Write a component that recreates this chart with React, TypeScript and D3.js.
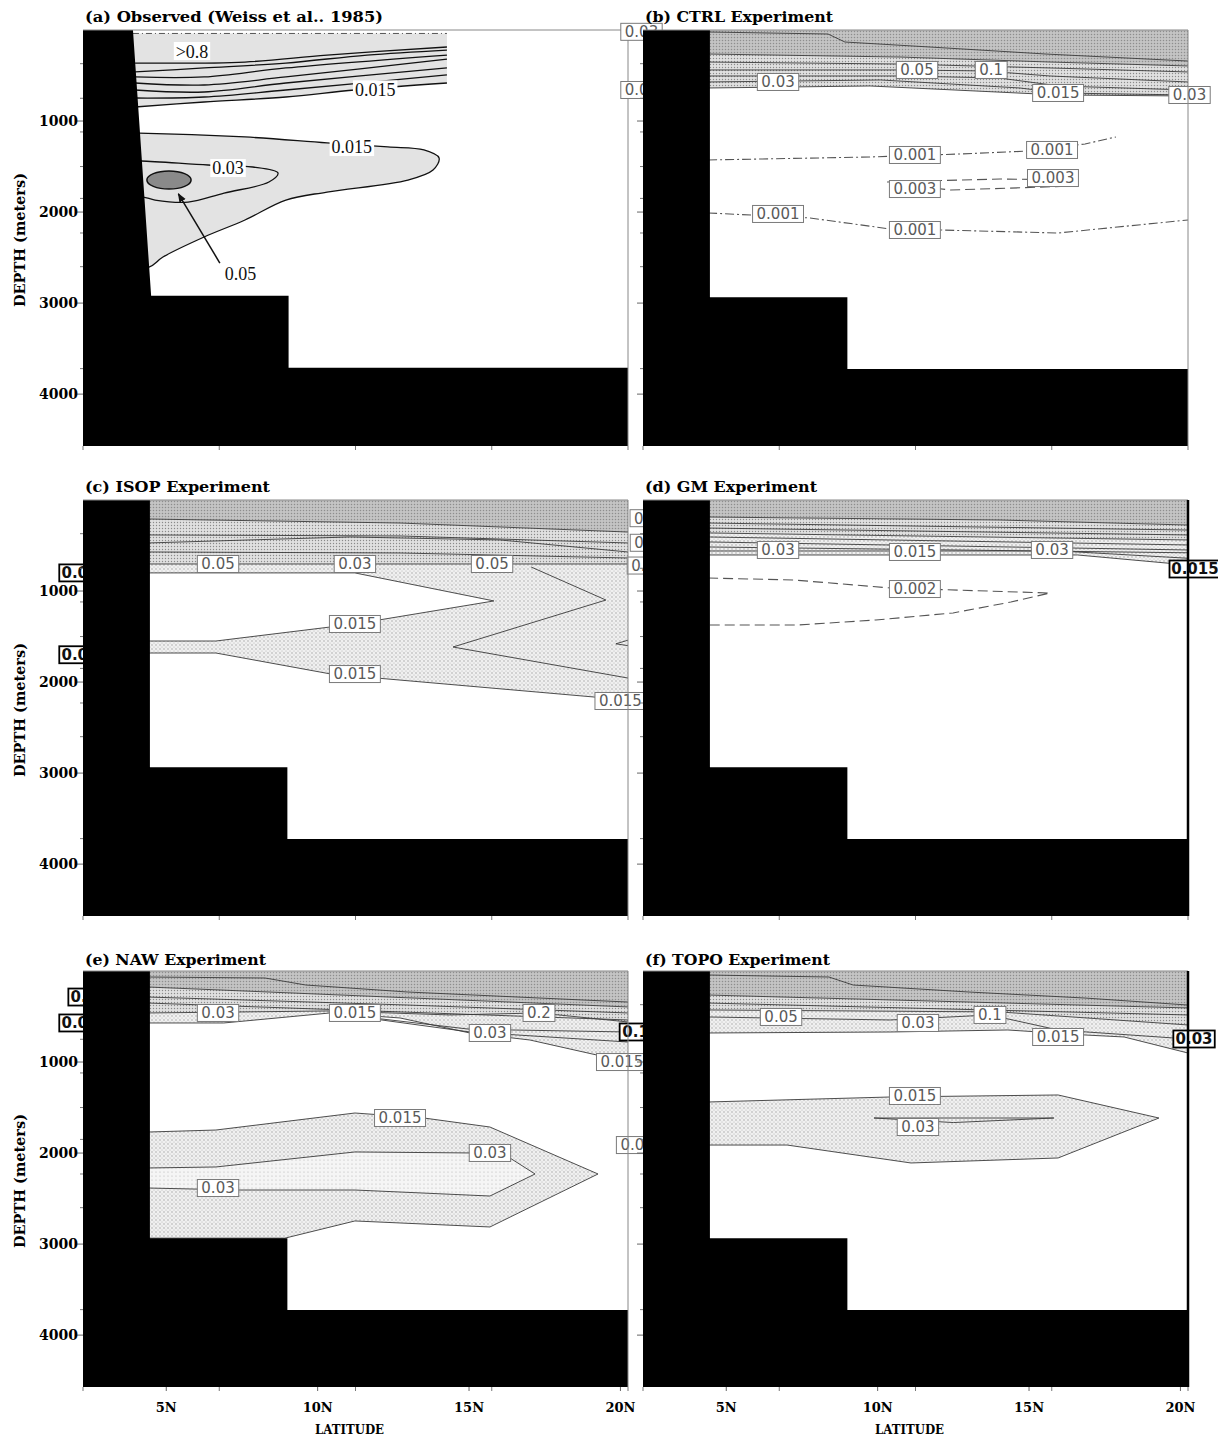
import React from 'react';
import * as d3 from 'd3';

type Pt = [number, number];

// ---------------- axes ----------------
const LAT_DOMAIN: [number, number] = [2.25, 20.25];
const DEPTH_DOMAIN: [number, number] = [0, 4570];
const depthTicks = [1000, 2000, 3000, 4000];
const depthMinorTicks = [370, 750, 1120, 1500, 1850, 2230, 2600, 3720];
const latTicks = [5, 10, 15, 20];
const latTickLabels = ['5N', '10N', '15N', '20N'];
const latMinorTicks = [2.25, 6.75, 11.25, 15.75, 20.25];
const panelTitles = [
  '(a) Observed (Weiss et al.. 1985)',
  '(b) CTRL Experiment',
  '(c) ISOP Experiment',
  '(d) GM Experiment',
  '(e) NAW Experiment',
  '(f) TOPO Experiment',
];

// ---------------- topography ----------------
const topoObserved: Pt[] = [[2.25, 0], [3.9, 0], [4.5, 2920], [9.04, 2920], [9.04, 3710], [20.25, 3710], [20.25, 4570], [2.25, 4570]];
const topoModel: Pt[] = [[2.25, 0], [4.46, 0], [4.46, 2935], [9.0, 2935], [9.0, 3725], [20.25, 3725], [20.25, 4570], [2.25, 4570]];
const TOP: Pt[] = [[2.25, 0], [20.25, 0]];

// ---------------- (a) observed ----------------
const aTopDash: Pt[] = [[3.9, 38], [14.27, 38]];
const aTopContours: Pt[][] = [
  [[3.97, 363], [7.6, 352], [10.31, 275], [14.27, 187]],
  [[3.97, 461], [6.25, 417], [8.95, 363], [11.63, 275], [14.27, 220]],
  [[3.97, 516], [6.25, 516], [8.95, 417], [14.27, 275]],
  [[3.97, 582], [6.25, 604], [8.95, 516], [14.27, 319]],
  [[3.97, 659], [6.25, 681], [8.95, 582], [14.27, 417]],
  [[3.97, 747], [6.25, 736], [8.95, 659], [14.27, 494]],
  [[3.97, 846], [6.25, 791], [8.95, 736], [11.23, 659], [14.27, 582]],
];
const aPlume015: Pt[] = [
  [4.1, 1132], [7.6, 1175], [10.31, 1241], [12.32, 1285], [13.51, 1318], [14.01, 1406], [13.81, 1538],
  [12.98, 1648], [10.31, 1780], [8.95, 1868], [7.6, 2087], [6.25, 2274], [4.89, 2494], [4.43, 2604],
  [3.5, 2604], [3.5, 1132],
];
const aCore03: Pt[] = [
  [4.17, 1439], [6.38, 1483], [7.86, 1505], [8.69, 1571], [8.39, 1670], [6.91, 1791], [5.72, 1890],
  [4.63, 1868], [4.23, 1835], [3.6, 1835], [3.6, 1439],
];
const aMax05 = { lat: 5.09, depth: 1648, dLat: 0.73, dDepth: 99 };
const aArrow: Pt[] = [[6.77, 2560], [5.4, 1800]];
const aLabels = [
  { t: '>0.8', at: [5.85, 231] as Pt },
  { t: '0.015', at: [11.9, 652] as Pt },
  { t: '0.015', at: [11.13, 1285] as Pt },
  { t: '0.03', at: [7.04, 1516] as Pt },
  { t: '0.05', at: [7.45, 2670] as Pt },
];

// ---------------- (b) CTRL ----------------
const bTop: Pt[][] = [
  [[4.4, 22], [8.36, 44], [8.92, 132], [11.73, 187], [15.56, 264], [20.25, 341]],
  [[4.4, 264], [10.74, 297], [15.69, 352], [20.25, 395]],
  [[4.4, 352], [10.74, 374], [15.69, 417], [20.25, 461]],
  [[4.4, 439], [10.9, 439], [13.54, 450], [15.69, 505], [20.25, 571]],
  [[4.4, 505], [10.74, 505], [14.0, 527], [16.0, 615], [20.25, 659]],
  [[4.4, 571], [10.1, 549], [14.7, 637], [16.0, 692], [20.25, 714]],
  [[4.4, 637], [9.75, 615], [16.0, 714], [20.25, 725]],
];
const bDeep001a: Pt[] = [[4.4, 1428], [9.75, 1395], [12.72, 1362], [15.03, 1329], [16.85, 1252], [17.87, 1175]];
const bDeep003: Pt[] = [[10.31, 1670], [14.04, 1637], [16.68, 1648], [16.45, 1714], [12.42, 1758], [10.31, 1681]];
const bDeep001b: Pt[] = [[4.4, 2010], [7.77, 2065], [10.41, 2186], [12.06, 2197], [15.96, 2230], [20.25, 2087]];
const bLabels = [
  { t: '0.03', at: [2.2, 20] as Pt }, { t: '0.03', at: [2.2, 659] as Pt },
  { t: '0.05', at: [11.3, 439] as Pt }, { t: '0.1', at: [13.75, 439] as Pt },
  { t: '0.03', at: [6.71, 571] as Pt }, { t: '0.015', at: [15.96, 692] as Pt },
  { t: '0.03', at: [20.3, 714] as Pt },
  { t: '0.001', at: [11.23, 1373] as Pt }, { t: '0.001', at: [15.76, 1318] as Pt },
  { t: '0.003', at: [15.79, 1626] as Pt }, { t: '0.003', at: [11.23, 1747] as Pt },
  { t: '0.001', at: [6.71, 2021] as Pt }, { t: '0.001', at: [11.23, 2197] as Pt },
];

// ---------------- (c) ISOP ----------------
const cTop: Pt[][] = [
  [[4.4, 209], [12.72, 253], [20.25, 352]],
  [[4.4, 384], [12.72, 395], [20.25, 472]],
  [[4.4, 472], [11.07, 406], [16.02, 439], [20.25, 571]],
  [[4.4, 571], [12.72, 582], [20.25, 637]],
  [[4.4, 703], [20.25, 703]],
];
const cWedge: Pt[] = [[4.4, 801], [11.23, 801], [15.82, 1109], [11.23, 1362], [6.64, 1549], [4.4, 1549]];
const cPlumeBottom: Pt[] = [[4.4, 1681], [6.64, 1681], [10.44, 1912], [20.25, 2197]];
const cZigzag: Pt[] = [[17.05, 736], [19.52, 1099], [14.47, 1615], [20.25, 1956]];
const cNotch: Pt[] = [[20.25, 1540], [19.85, 1580], [20.25, 1600]];
const cLabels = [
  { t: '0.05', at: [6.71, 703] as Pt }, { t: '0.03', at: [11.23, 703] as Pt }, { t: '0.05', at: [15.76, 703] as Pt },
  { t: '0.015', at: [11.23, 1362] as Pt }, { t: '0.015', at: [11.23, 1912] as Pt },
  { t: '0.015', at: [20.0, 2208] as Pt },
  { t: '0.05', at: [21.0, 200] as Pt }, { t: '0.1', at: [20.85, 470] as Pt }, { t: '0.1', at: [20.75, 720] as Pt },
  { t: '0.03', at: [2.15, 801] as Pt, black: true }, { t: '0.03', at: [2.15, 1700] as Pt, black: true },
];

// ---------------- (d) GM ----------------
const dTop: Pt[][] = [
  [[4.4, 187], [14.04, 220], [20.25, 275]],
  [[4.4, 253], [20.25, 330]],
  [[4.4, 308], [20.25, 384]],
  [[4.4, 362], [20.25, 439]],
  [[4.4, 406], [20.25, 494]],
  [[4.4, 461], [20.25, 549]],
  [[4.4, 516], [20.25, 580]],
  [[4.4, 560], [16.0, 560], [20.25, 640]],
  [[4.4, 604], [16.6, 604], [20.25, 714]],
];
const dDeep002: Pt[] = [[4.4, 857], [7.24, 879], [10.44, 967], [15.69, 1022], [14.4, 1121], [12.49, 1241], [9.94, 1318], [7.37, 1373], [4.4, 1373]];
const dLabels = [
  { t: '0.03', at: [6.71, 549] as Pt }, { t: '0.015', at: [11.23, 571] as Pt }, { t: '0.03', at: [15.76, 549] as Pt },
  { t: '0.002', at: [11.23, 978] as Pt },
  { t: '0.015', at: [20.48, 758] as Pt, black: true },
];

// ---------------- (e) NAW ----------------
const eTop: Pt[][] = [
  [[4.4, 66], [8.26, 77], [9.61, 154], [12.98, 231], [20.25, 341]],
  [[4.4, 176], [20.25, 395]],
  [[4.4, 286], [12.98, 374], [20.25, 461]],
  [[4.4, 352], [20.25, 538]],
  [[4.4, 461], [10.41, 439], [14.37, 483], [17.31, 461], [20.25, 560]],
  [[10.41, 461], [15.03, 640], [20.25, 670]],
  [[10.41, 461], [15.03, 670], [20.25, 780]],
  [[4.4, 571], [6.9, 571], [10.41, 461], [12.72, 516], [15.03, 681], [17.01, 758], [20.25, 1000]],
];
const ePlume015: Pt[] = [[4.4, 1769], [6.64, 1747], [11.23, 1560], [13.51, 1615], [15.69, 1714], [19.26, 2230], [15.69, 2812], [11.23, 2746], [8.92, 2935], [4.4, 2935]];
const eCore03: Pt[] = [[4.4, 2164], [6.64, 2153], [11.23, 1988], [15.0, 1999], [16.35, 2054], [17.18, 2230], [15.69, 2472], [11.23, 2406], [7.34, 2406], [4.4, 2384]];
const eLabels = [
  { t: '0.03', at: [2.45, 286] as Pt, black: true }, { t: '0.03', at: [2.15, 571] as Pt, black: true },
  { t: '0.03', at: [6.71, 461] as Pt }, { t: '0.015', at: [11.23, 461] as Pt }, { t: '0.2', at: [17.31, 461] as Pt },
  { t: '0.03', at: [15.69, 681] as Pt },
  { t: '0.015', at: [12.72, 1615] as Pt }, { t: '0.03', at: [15.69, 1999] as Pt }, { t: '0.03', at: [6.71, 2384] as Pt },
  { t: '0.015', at: [20.05, 1000] as Pt }, { t: '0.03', at: [20.55, 1912] as Pt },
  { t: '0.1', at: [20.5, 670] as Pt, black: true },
];

// ---------------- (f) TOPO ----------------
const fTop: Pt[][] = [
  [[4.4, 44], [8.39, 66], [9.19, 154], [13.02, 231], [16.85, 297], [20.25, 374]],
  [[4.4, 264], [20.25, 406]],
  [[4.4, 352], [20.25, 483]],
  [[4.4, 428], [14.04, 450], [20.25, 593]],
  [[4.4, 505], [10.41, 538], [13.71, 483], [15.96, 648], [20.25, 747]],
  [[4.4, 681], [10.44, 670], [14.3, 648], [16.85, 703], [18.14, 725], [20.25, 901]],
];
const fPlume015: Pt[] = [[4.4, 1439], [10.44, 1384], [15.96, 1362], [19.29, 1615], [15.96, 2054], [11.1, 2109], [7.01, 1912], [4.4, 1912]];
const fCore03: Pt[] = [[9.88, 1615], [15.82, 1615], [12.5, 1665]];
const fLabels = [
  { t: '0.05', at: [6.81, 505] as Pt }, { t: '0.03', at: [11.33, 571] as Pt }, { t: '0.1', at: [13.71, 483] as Pt },
  { t: '0.015', at: [15.96, 725] as Pt }, { t: '0.03', at: [20.45, 747] as Pt, black: true },
  { t: '0.015', at: [11.23, 1373] as Pt }, { t: '0.03', at: [11.33, 1714] as Pt },
];

// ---------------- layout ----------------
const W = 545;
const H = 416;
const COLS = [83, 643];
const ROWS = [30, 500, 971];
const TITLE_BASE = [22, 492, 965];
const TITLE_W = [298, 188, 185, 172, 181, 185];
const SERIF = '"DejaVu Serif", "Liberation Serif", serif';
const SANS = '"DejaVu Sans", "Liberation Sans", sans-serif';

const DARK = 'url(#pDark)';
const MID = 'url(#pMid)';
const LIGHT = 'url(#pLight)';
const LIGHTER = 'url(#pLighter)';

interface Band { upper: Pt[]; lower: Pt[]; fill: string }
interface Contour { pts: Pt[]; dash?: string; closed?: boolean }
interface Label { t: string; at: Pt; black?: boolean }
interface Spec { bands: Band[]; polys: { pts: Pt[]; fill: string }[]; contours: Contour[]; labels: Label[] }

const xS = d3.scaleLinear().domain(LAT_DOMAIN).range([0, W]);
const yS = d3.scaleLinear().domain(DEPTH_DOMAIN).range([0, H]);
const lin = d3.line<Pt>().x(d => xS(d[0])).y(d => yS(d[1]));
const smooth = d3.line<Pt>().x(d => xS(d[0])).y(d => yS(d[1])).curve(d3.curveCatmullRom.alpha(0.5));
const smoothClosed = d3.line<Pt>().x(d => xS(d[0])).y(d => yS(d[1])).curve(d3.curveCatmullRomClosed.alpha(0.5));

const DASHDOT = '9,3,2,3';
const LONGDASH = '10,5';

const specs: Spec[] = [
  {
    bands: [{ upper: TOP, lower: bTop[1], fill: DARK }, { upper: bTop[1], lower: bTop[6], fill: MID }],
    polys: [],
    contours: [
      ...bTop.map(p => ({ pts: p })),
      { pts: bDeep001a, dash: DASHDOT }, { pts: bDeep003, dash: LONGDASH, closed: true }, { pts: bDeep001b, dash: DASHDOT },
    ],
    labels: bLabels,
  },
  {
    bands: [
      { upper: TOP, lower: cTop[0], fill: DARK },
      { upper: cTop[0], lower: cTop[4], fill: MID },
      { upper: cTop[4], lower: cPlumeBottom, fill: LIGHT },
    ],
    polys: [{ pts: cWedge, fill: '#ffffff' }],
    contours: [...cTop.map(p => ({ pts: p })), { pts: cWedge }, { pts: cPlumeBottom }, { pts: cZigzag }, { pts: cNotch }],
    labels: cLabels,
  },
  {
    bands: [
      { upper: TOP, lower: dTop[0], fill: DARK },
      { upper: dTop[0], lower: dTop[3], fill: MID },
      { upper: dTop[3], lower: dTop[8], fill: LIGHT },
    ],
    polys: [],
    contours: [...dTop.map(p => ({ pts: p })), { pts: dDeep002, dash: LONGDASH }],
    labels: dLabels,
  },
  {
    bands: [
      { upper: TOP, lower: eTop[1], fill: DARK },
      { upper: eTop[1], lower: eTop[4], fill: MID },
      { upper: eTop[4], lower: eTop[7], fill: LIGHT },
    ],
    polys: [{ pts: ePlume015, fill: LIGHT }, { pts: eCore03, fill: LIGHTER }],
    contours: [...eTop.map(p => ({ pts: p })), { pts: ePlume015, closed: true }, { pts: eCore03, closed: true }],
    labels: eLabels,
  },
  {
    bands: [
      { upper: TOP, lower: fTop[1], fill: DARK },
      { upper: fTop[1], lower: fTop[3], fill: MID },
      { upper: fTop[3], lower: fTop[5], fill: LIGHT },
    ],
    polys: [{ pts: fPlume015, fill: LIGHT }],
    contours: [...fTop.map(p => ({ pts: p })), { pts: fPlume015, closed: true }, { pts: fCore03, closed: true }],
    labels: fLabels,
  },
];

function textWidth(t: string, digit: number): number {
  let w = 0;
  for (const c of t) w += c === '.' ? digit * 0.5 : c === '>' ? digit * 1.1 : digit;
  return w;
}

function BoxLabel({ l }: { l: Label }) {
  const fs = 15;
  const w = textWidth(l.t, fs * 0.636) + 8;
  const h = 17;
  const cx = xS(l.at[0]);
  const cy = yS(l.at[1]);
  return (
    <g>
      <rect x={cx - w / 2} y={cy - h / 2} width={w} height={h} fill="#fff"
        stroke={l.black ? '#000' : '#7a7a7a'} strokeWidth={l.black ? 1.8 : 1} />
      <text x={cx} y={cy} dy="0.36em" textAnchor="middle" fontFamily={SANS} fontSize={fs}
        fill={l.black ? '#111' : '#5a5a5a'} fontWeight={l.black ? 'bold' : 'normal'}>{l.t}</text>
    </g>
  );
}

function Axes({ col, row, idx }: { col: number; row: number; idx: number }) {
  const x0 = COLS[col];
  const y0 = ROWS[row];
  const heavy = idx === 3 || idx === 5;
  return (
    <g>
      <g transform={`translate(${x0},${y0})`}>
        <line x1={0} x2={W} y1={0} y2={0} stroke="#888" strokeWidth={1} />
        <line x1={W} x2={W} y1={0} y2={H} stroke={heavy ? '#000' : '#888'} strokeWidth={heavy ? 2.5 : 1} />
        {depthTicks.map(d => (
          <line key={'M' + d} x1={-6} x2={0} y1={yS(d)} y2={yS(d)} stroke="#666" strokeWidth={1} />
        ))}
        {depthMinorTicks.map(d => (
          <line key={'m' + d} x1={-3} x2={0} y1={yS(d)} y2={yS(d)} stroke="#777" strokeWidth={1} />
        ))}
        {latMinorTicks.map(l => (
          <line key={'lm' + l} x1={xS(l)} x2={xS(l)} y1={H} y2={H + 4} stroke="#777" strokeWidth={1} />
        ))}
        {row === 2 && latTicks.map(l => (
          <line key={'lt' + l} x1={xS(l)} x2={xS(l)} y1={H} y2={H + 4} stroke="#666" strokeWidth={1} />
        ))}
        {col === 0 && depthTicks.map(d => (
          <text key={'t' + d} x={-5} y={yS(d)} dy="0.36em" textAnchor="end" fontFamily={SERIF}
            fontWeight="bold" fontSize={14}>{d}</text>
        ))}
        {row === 2 && latTicks.map((l, i) => (
          <text key={'xl' + l} x={xS(l)} y={H + 25} textAnchor="middle" fontFamily={SERIF}
            fontWeight="bold" fontSize={13}>{latTickLabels[i]}</text>
        ))}
        {row === 2 && (
          <text x={W / 2 - 6} y={H + 47} textAnchor="middle" fontFamily={SERIF} fontWeight="bold"
            fontSize={12} textLength={69} lengthAdjust="spacingAndGlyphs">LATITUDE</text>
        )}
      </g>
      <text x={x0 + 2} y={TITLE_BASE[row]} fontFamily={SERIF} fontWeight="bold" fontSize={14.5}
        textLength={TITLE_W[idx]} lengthAdjust="spacingAndGlyphs">{panelTitles[idx]}</text>
      {col === 0 && (
        <text transform={`translate(25,${y0 + 210}) rotate(-90)`} textAnchor="middle" fontFamily={SERIF}
          fontWeight="bold" fontSize={14} textLength={134} lengthAdjust="spacingAndGlyphs">DEPTH (meters)</text>
      )}
    </g>
  );
}

function PanelA() {
  const x0 = COLS[0];
  const y0 = ROWS[0];
  const L7 = aTopContours[aTopContours.length - 1];
  const topFill =
    `M${xS(aTopDash[0][0])},${yS(aTopDash[0][1])}L${xS(aTopDash[1][0])},${yS(aTopDash[1][1])}` +
    (smooth([...L7].reverse()) || '').replace(/^M/, 'L') + 'Z';
  return (
    <g transform={`translate(${x0},${y0})`}>
      <path d={topFill} fill="#e3e3e3" />
      <path d={lin(aTopDash) || ''} fill="none" stroke="#555" strokeWidth={1} strokeDasharray="6,3,1,3" />
      {aTopContours.map((c, i) => (
        <path key={i} d={smooth(c) || ''} fill="none" stroke="#111" strokeWidth={1.3} />
      ))}
      <path d={smoothClosed(aPlume015) || ''} fill="#e3e3e3" stroke="#111" strokeWidth={1.3} />
      <path d={smoothClosed(aCore03) || ''} fill="none" stroke="#111" strokeWidth={1.3} />
      <ellipse cx={xS(aMax05.lat)} cy={yS(aMax05.depth)} rx={xS(aMax05.lat + aMax05.dLat) - xS(aMax05.lat)}
        ry={yS(aMax05.dDepth) - yS(0)} fill="#8a8a8a" stroke="#111" strokeWidth={1.5} />
      <path d={lin(aArrow) || ''} stroke="#111" strokeWidth={1.5} fill="none" markerEnd="url(#arrow)" />
      {aLabels.map((l, i) => {
        const w = textWidth(l.t, 9) + 4;
        const cx = xS(l.at[0]);
        const cy = yS(l.at[1]);
        return (
          <g key={i}>
            {i < 4 && <rect x={cx - w / 2} y={cy - 9} width={w} height={18} fill="#fff" />}
            <text x={cx} y={cy} dy="0.36em" textAnchor="middle" fontFamily='"Liberation Serif", serif'
              fontSize={18} fill="#111">{l.t}</text>
          </g>
        );
      })}
      <path d={(lin(topoObserved) || '') + 'Z'} fill="#000" />
    </g>
  );
}

function ModelPanel({ spec, col, row }: { spec: Spec; col: number; row: number }) {
  const x0 = COLS[col];
  const y0 = ROWS[row];
  return (
    <g transform={`translate(${x0},${y0})`}>
      {spec.bands.map((b, i) => (
        <path key={'b' + i} d={(lin([...b.upper, ...[...b.lower].reverse()]) || '') + 'Z'} fill={b.fill} />
      ))}
      {spec.polys.map((p, i) => (
        <path key={'p' + i} d={(lin(p.pts) || '') + 'Z'} fill={p.fill} />
      ))}
      {spec.contours.map((c, i) => (
        <path key={'c' + i} d={(lin(c.pts) || '') + (c.closed ? 'Z' : '')} fill="none"
          stroke={c.dash ? '#555' : '#3a3a3a'} strokeWidth={c.dash ? 1.1 : 0.9} strokeDasharray={c.dash} />
      ))}
      {spec.labels.map((l, i) => <BoxLabel key={'l' + i} l={l} />)}
      <path d={(lin(topoModel) || '') + 'Z'} fill="#000" />
    </g>
  );
}

export default function App() {
  const order: [number, number][] = [[1, 0], [0, 1], [1, 1], [0, 2], [1, 2]];
  return (
    <svg width={1218} height={1438} style={{ position: 'absolute', left: 0, top: 0, background: '#fff' }}
      xmlns="http://www.w3.org/2000/svg">
      <defs>
        <pattern id="pDark" width={3} height={3} patternUnits="userSpaceOnUse">
          <rect width={3} height={3} fill="#c4c4c4" />
          <circle cx={1.5} cy={1.5} r={0.75} fill="#8e8e8e" />
        </pattern>
        <pattern id="pMid" width={3} height={3} patternUnits="userSpaceOnUse">
          <rect width={3} height={3} fill="#e0e0e0" />
          <circle cx={1.5} cy={1.5} r={0.7} fill="#8a8a8a" />
        </pattern>
        <pattern id="pLight" width={4} height={4} patternUnits="userSpaceOnUse">
          <rect width={4} height={4} fill="#f0f0f0" />
          <circle cx={1} cy={1} r={0.65} fill="#9a9a9a" />
          <circle cx={3} cy={3} r={0.55} fill="#b0b0b0" />
        </pattern>
        <pattern id="pLighter" width={4} height={4} patternUnits="userSpaceOnUse">
          <rect width={4} height={4} fill="#f5f5f5" />
          <circle cx={1} cy={1} r={0.6} fill="#b4b4b4" />
        </pattern>
        <marker id="arrow" viewBox="0 0 10 10" refX={9} refY={5} markerWidth={9} markerHeight={9} orient="auto"
          markerUnits="userSpaceOnUse">
          <path d="M0,1 L10,5 L0,9 z" fill="#111" />
        </marker>
      </defs>
      <rect width={1218} height={1438} fill="#fff" />
      <PanelA />
      <Axes col={0} row={0} idx={0} />
      {specs.map((s, i) => (
        <g key={i}>
          <ModelPanel spec={s} col={order[i][0]} row={order[i][1]} />
          <Axes col={order[i][0]} row={order[i][1]} idx={i + 1} />
        </g>
      ))}
    </svg>
  );
}
